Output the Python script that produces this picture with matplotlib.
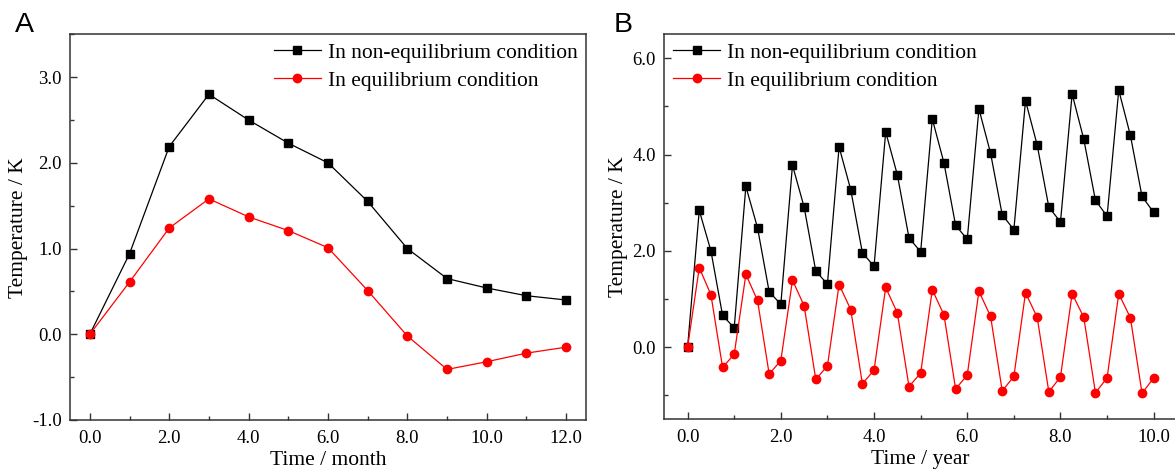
import matplotlib
matplotlib.use('Agg')
import matplotlib.pyplot as plt
from matplotlib.ticker import MultipleLocator, FormatStrFormatter

# Panel A: monthly response over one year
month = [0, 1, 2, 3, 4, 5, 6, 7, 8, 9, 10, 11, 12]
a_noneq = [0.00, 0.94, 2.19, 2.80, 2.50, 2.23, 2.00, 1.55, 1.00, 0.65, 0.54, 0.45, 0.40]
a_eq = [0.00, 0.61, 1.24, 1.58, 1.37, 1.21, 1.01, 0.51, -0.02, -0.41, -0.32, -0.22, -0.15]

# Panel B: quarterly response over ten years
year = [i * 0.25 for i in range(41)]
b_noneq = [0.00, 2.84, 2.00, 0.66, 0.40, 3.34, 2.48, 1.15, 0.89, 3.78, 2.91,
           1.58, 1.31, 4.16, 3.27, 1.96, 1.68, 4.47, 3.58, 2.27, 1.98, 4.74,
           3.83, 2.53, 2.24, 4.95, 4.03, 2.75, 2.44, 5.12, 4.20, 2.91, 2.60,
           5.26, 4.32, 3.05, 2.72, 5.34, 4.40, 3.13, 2.80]
b_eq = [0.00, 1.65, 1.09, -0.42, -0.15, 1.51, 0.97, -0.56, -0.28, 1.39, 0.86,
        -0.67, -0.39, 1.30, 0.78, -0.76, -0.48, 1.24, 0.71, -0.82, -0.54, 1.19,
        0.67, -0.87, -0.58, 1.16, 0.64, -0.91, -0.61, 1.13, 0.62, -0.93, -0.62,
        1.11, 0.62, -0.95, -0.64, 1.11, 0.61, -0.96, -0.64]

label_noneq = 'In non-equilibrium condition'
label_eq = 'In equilibrium condition'

plt.rcParams['font.family'] = 'Liberation Serif'

W, H = 1175, 476
fig = plt.figure(figsize=(W / 100, H / 100), dpi=100)


def _px_axes(left, top, right, bottom):
    return fig.add_axes([left / W, 1 - bottom / H, (right - left) / W, (bottom - top) / H])


def _style(ax, xmajor, ymajor, xlabel):
    for s in ax.spines.values():
        s.set_linewidth(1.1)
        s.set_color('#333333')
    ax.xaxis.set_major_locator(MultipleLocator(xmajor))
    ax.xaxis.set_minor_locator(MultipleLocator(xmajor / 2))
    ax.yaxis.set_major_locator(MultipleLocator(ymajor))
    ax.yaxis.set_minor_locator(MultipleLocator(ymajor / 2))
    ax.xaxis.set_major_formatter(FormatStrFormatter('%.1f'))
    ax.yaxis.set_major_formatter(FormatStrFormatter('%.1f'))
    ax.tick_params(which='both', direction='in', top=False, right=False,
                   color='#333333', width=1.0)
    ax.tick_params(which='major', length=5, labelsize=13.5, pad=7)
    ax.tick_params(which='minor', length=3)
    ax.tick_params(axis='y', which='major', pad=6)
    ax.set_xlabel(xlabel, fontsize=15.5, labelpad=3)
    ax.set_ylabel('Temperature / K', fontsize=15.5, labelpad=3)


def _series(ax, x, y1, y2):
    ax.plot(x, y1, color='black', lw=0.9, marker='s', ms=5.3, label=label_noneq)
    ax.plot(x, y2, color='red', lw=0.9, marker='o', ms=6, label=label_eq)


def _legend(ax, loc, anchor):
    ax.legend(loc=loc, bbox_to_anchor=anchor, frameon=False,
              fontsize=15.5, handlelength=2.2, handletextpad=0.3,
              labelspacing=0.35, borderaxespad=0.3, borderpad=0.1)


# ---- Panel A
ax1 = _px_axes(70, 34.3, 586, 420)
_series(ax1, month, a_noneq, a_eq)
ax1.set_xlim(-0.5, 12.5)
ax1.set_ylim(-1.0, 3.5)
_style(ax1, 2, 1, 'Time / month')
_legend(ax1, 'upper right', (1.0, 1.0))

# ---- Panel B
ax2 = _px_axes(664.3, 34.3, 1177, 419.3)
_series(ax2, year, b_noneq, b_eq)
ax2.set_xlim(-0.5, 10.5)
ax2.set_ylim(-1.5, 6.5)
_style(ax2, 2, 2, 'Time / year')
_legend(ax2, 'upper left', (0.0, 1.0))

fig.text(15 / W, 1 - 31.7 / H, 'A', fontsize=20.5, family='Liberation Sans',
         ha='left', va='baseline')
fig.text(614 / W, 1 - 32.3 / H, 'B', fontsize=20.5, family='Liberation Sans',
         ha='left', va='baseline')

fig.savefig('out.png', dpi=100)
